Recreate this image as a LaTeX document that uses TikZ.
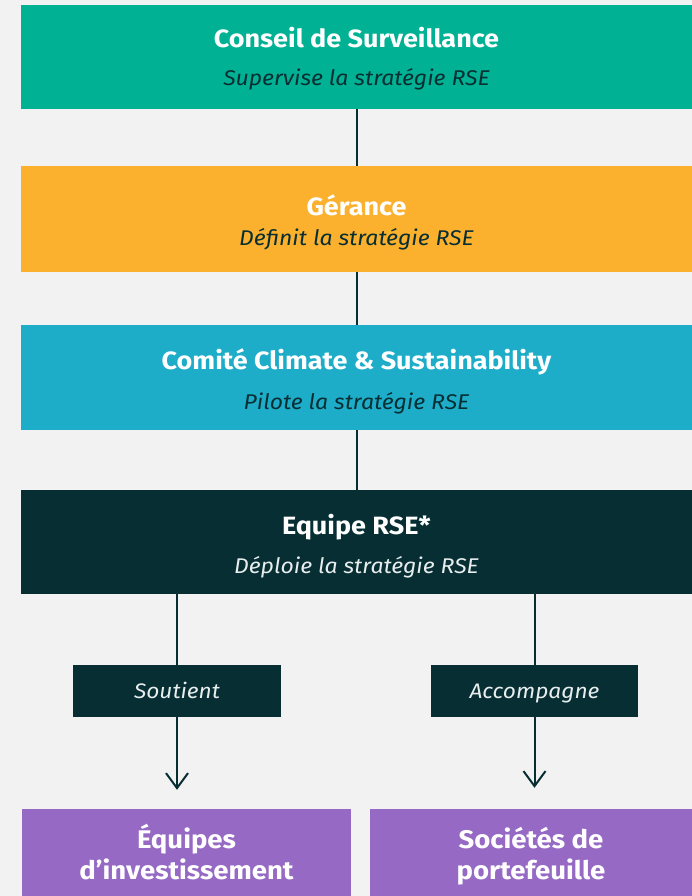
\documentclass[tikz,border=0pt]{standalone}
\usepackage{fontspec}
\setmainfont[FakeStretch=1.08]{Fira Sans}
\usetikzlibrary{arrows.meta}
\definecolor{bg}{HTML}{F2F2F2}
\definecolor{cgreen}{HTML}{00B194}
\definecolor{corange}{HTML}{FBB12D}
\definecolor{ccyan}{HTML}{1EADC9}
\definecolor{cdark}{HTML}{062E33}
\definecolor{cpurple}{HTML}{9669C4}
\definecolor{clight}{HTML}{E8EEEE}
\tikzset{
  box/.style={draw=none, rectangle, inner sep=0pt},
  ttl/.style={anchor=base, text=white, font=\fontsize{25}{28}\selectfont\bfseries, inner sep=0pt},
  bot/.style={ttl, font=\fontsize{25.5}{28}\selectfont\bfseries},
  sub/.style={anchor=base, text=cdark, font=\fontsize{21.3}{26}\selectfont\itshape, inner sep=0pt},
  lbl/.style={anchor=base, text=clight, font=\fontsize{21}{24}\selectfont\itshape, inner sep=0pt},
  conn/.style={draw=cdark, line width=2pt},
  arr/.style={conn, -{Straight Barb[length=15pt, width=22pt, line width=2pt]}},
}
\begin{document}
\begin{tikzpicture}[x=1pt, y=-1pt]
\fill[bg] (0,0) rectangle (692,896);
\useasboundingbox (0,0) rectangle (692,896);

% main boxes
\node[box, fill=cgreen, minimum width=671pt, minimum height=104pt] (b1) at (356.5,57) {};
\node[box, fill=corange, minimum width=671pt, minimum height=106pt] (b2) at (356.5,219) {};
\node[box, fill=ccyan, minimum width=671pt, minimum height=105pt] (b3) at (356.5,377.5) {};
\node[box, fill=cdark, minimum width=671pt, minimum height=104pt] (b4) at (356.5,542) {};

% label boxes
\node[box, fill=cdark, minimum width=208pt, minimum height=52pt] (l1) at (177,691) {};
\node[box, fill=cdark, minimum width=207pt, minimum height=52pt] (l2) at (534.5,691) {};

% bottom boxes
\node[box, fill=cpurple, minimum width=329pt, minimum height=90pt] (p1) at (186.5,854) {};
\node[box, fill=cpurple, minimum width=322pt, minimum height=90pt] (p2) at (531,854) {};

% texts
\node[ttl] (t1) at (356.5,48) {Conseil de Surveillance};
\node[sub] (s1) at (356.5,86) {Supervise la stratégie RSE};
\node[ttl] (t2) at (356.5,215) {Gérance};
\node[sub] (s2) at (356.5,245) {Définit la stratégie RSE};
\node[ttl] (t3) at (356.5,369) {Comité Climate \& Sustainability};
\node[sub] (s3) at (356.5,409) {Pilote la stratégie RSE};
\node[ttl] (t4) at (356.5,534) {Equipe RSE*};
\node[sub, text=clight] (s4) at (356.5,573) {Déploie la stratégie RSE};
\node[lbl] (lt1) at (177,698) {Soutient};
\node[lbl] (lt2) at (534.5,698) {Accompagne};
\node[bot] (pt1a) at (186.5,848) {Équipes};
\node[bot] (pt1b) at (186.5,879) {d’investissement};
\node[bot] (pt2a) at (531,848) {Sociétés de};
\node[bot] (pt2b) at (531,879) {portefeuille};

% connectors
\draw[conn] (b1.south) -- (b2.north);
\draw[conn] (b2.south) -- (b3.north);
\draw[conn] (b3.south) -- (b4.north);
\draw[conn] (l1.north |- b4.south) -- (l1.north);
\draw[conn] (l2.north |- b4.south) -- (l2.north);
\draw[arr, shorten >=19pt] (l1.south) -- (l1.south |- p1.north);
\draw[arr, shorten >=21pt] (l2.south) -- (l2.south |- p2.north);
\end{tikzpicture}
\end{document}
